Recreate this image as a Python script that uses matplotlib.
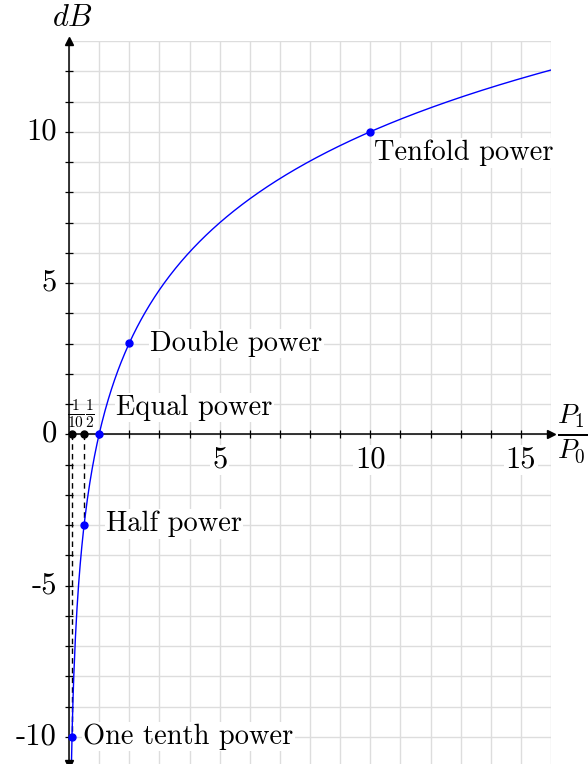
import numpy as np
import matplotlib
matplotlib.use("Agg")
import matplotlib.pyplot as plt

plt.rcParams["font.family"] = ["cmr10", "DejaVu Serif"]
plt.rcParams["mathtext.fontset"] = "cm"
plt.rcParams["axes.unicode_minus"] = False

# power ratios of the marked points and their labels
ratios = [0.1, 0.5, 1, 2, 10]
point_labels = ["One tenth power", "Half power", "Equal power", "Double power", "Tenfold power"]
label_pos = [(0.47, -10.0), (1.23, -2.97), (1.56, 0.89), (2.69, 3.0), (10.12, 9.3)]
xtick_vals = [5, 10, 15]
xtick_text = ["5", "10", "15"]
ytick_vals = [-10, -5, 0, 5, 10]
ytick_text = ["-10", "-5", "0", "5", "10"]
frac_ratios = [0.1, 0.5]
frac_text = [r"$\frac{1}{10}$", r"$\frac{1}{2}$"]
frac_xpos = [0.23, 0.70]

xmin, xmax = 0, 16
ymin, ymax = -10.9, 13

fig = plt.figure(figsize=(5.88, 7.64), dpi=100)
ax = fig.add_axes([69 / 588, 0, 482 / 588, (764 - 41) / 764])
ax.set_xlim(xmin, xmax)
ax.set_ylim(ymin, ymax)

# grid at every unit
for gx in range(0, 17):
    ax.axvline(gx, color="#dddddd", lw=1, zorder=0)
for gy in range(-11, 14):
    ax.axhline(gy, color="#dddddd", lw=1, zorder=0)

# axes through the origin
for side in ["top", "right"]:
    ax.spines[side].set_visible(False)
ax.spines["left"].set_position(("data", 0))
ax.spines["bottom"].set_position(("data", 0))
ax.spines["left"].set_linewidth(1.1)
ax.spines["bottom"].set_linewidth(1.1)
ax.set_xticks(np.arange(1, 16))
ax.set_yticks(np.arange(-10, 13))
ax.tick_params(direction="inout", length=6, width=0.9, labelleft=False, labelbottom=False)

# arrowheads
ax.plot([xmax], [0], marker=">", color="black", ms=6, clip_on=False, zorder=5)
ax.plot([0], [ymax], marker="^", color="black", ms=6, clip_on=False, zorder=5)
ax.plot([0], [ymin], marker="v", color="black", ms=6, clip_on=False, zorder=5)

# tick labels
for v, t in zip(xtick_vals, xtick_text):
    ax.text(v, -0.4, t, ha="center", va="top", fontsize=22,
            bbox=dict(facecolor="white", edgecolor="none", pad=1), zorder=4)
for v, t in zip(ytick_vals, ytick_text):
    ax.text(-0.4, v, t, ha="right", va="center", fontsize=22, clip_on=False)

# decibel curve
xs = np.linspace(0.08, 16, 600)
ax.plot(xs, 10 * np.log10(xs), color="#0000ff", lw=1, zorder=3)

# dashed drops from the fractional ratios
for r in frac_ratios:
    ax.plot([r, r], [0, 10 * np.log10(r)], color="black", lw=1, ls=(0, (4, 3)), zorder=2)
    ax.plot([r], [0], "o", color="black", ms=5, zorder=4)
for xp, t in zip(frac_xpos, frac_text):
    ax.text(xp, 0.7, t, ha="center", va="center", fontsize=16)

# marked points
for r, lab, (lx, ly) in zip(ratios, point_labels, label_pos):
    ax.plot([r], [10 * np.log10(r)], "o", color="#0000ff", ms=5, zorder=5, clip_on=False)
    ax.text(lx, ly, lab, ha="left", va="center", fontsize=20.5,
            bbox=dict(facecolor="white", edgecolor="none", pad=1), zorder=4)

# axis titles
ax.text(0.1, ymax + 0.3, r"$dB$", ha="center", va="bottom", fontsize=22, clip_on=False)
ax.text(xmax + 0.2, 0, r"$\frac{P_1}{P_0}$", ha="left", va="center", fontsize=28, clip_on=False)

fig.savefig("out.png", dpi=100)
